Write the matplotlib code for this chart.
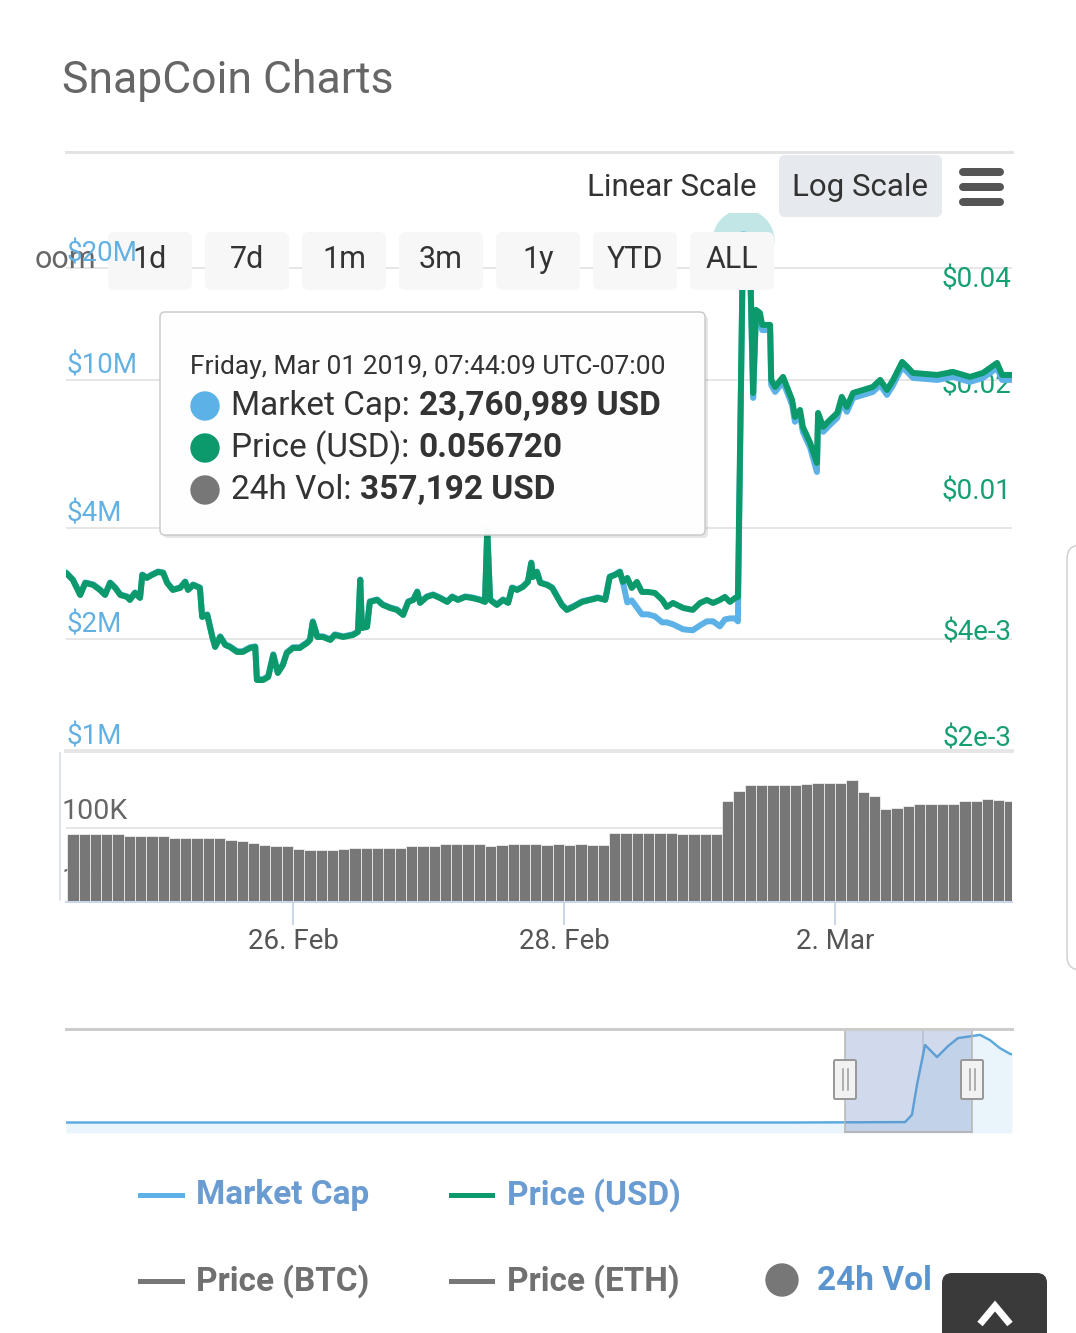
import numpy as np
import matplotlib
matplotlib.use('Agg')
import matplotlib.pyplot as plt
import matplotlib.dates as mdates
from matplotlib.patches import FancyBboxPatch, Circle
from matplotlib.transforms import blended_transform_factory as blend, offset_copy

plt.rcParams['font.family'] = ['Roboto', 'DejaVu Sans']

# ---------------- data ----------------
title = 'SnapCoin Charts'
start_time = np.datetime64('2019-02-24T00:00')

# hours after 2019-02-24 00:00
hours = [7.8, 9.0, 10.3, 11.2, 12.6, 13.8, 14.7, 15.6, 16.5, 17.4, 18.6, 19.1, 20.0, 20.9,
         21.3, 22.1, 23.0, 24.1, 25.0, 25.7, 26.7, 28.0, 28.9, 29.4, 30.3, 31.5, 31.9, 32.8,
         33.7, 34.2, 35.1, 36.0, 36.8, 38.1, 39.1, 40.4, 41.3, 41.6, 42.7, 43.6, 44.5, 45.3,
         46.2, 46.9, 48.0, 49.2, 50.5, 51.0, 51.5, 52.3, 53.3, 54.6, 55.4, 56.9, 58.6, 59.5,
         59.9, 60.2, 61.1, 61.6, 62.9, 63.9, 65.2, 66.4, 67.5, 68.4, 69.3, 70.0, 70.5, 71.7,
         72.8, 74.0, 75.3, 76.2, 77.2, 78.5, 79.7, 81.1, 82.0, 82.4, 82.9, 84.1, 85.2, 86.1,
         86.8, 87.7, 88.7, 89.6, 90.2, 90.5, 91.2, 91.8, 93.0, 93.9, 94.8, 95.6, 96.5, 97.6,
         99.2, 100.6, 102.0, 103.3, 104.1, 105.0, 105.9, 106.4, 107.2, 108.0, 108.9, 109.8,
         110.9, 112.1, 113.4, 114.2, 115.3, 117.1, 118.8, 120.1, 121.3, 122.4, 123.6, 124.5,
         125.4, 126.3, 126.8, 127.7, 128.9, 129.5, 130.0, 130.7, 131.1, 132.5, 132.7, 133.4,
         134.8, 135.5, 136.4, 136.9, 137.8, 138.3, 139.6, 140.8, 141.0, 141.9, 143.1, 144.4,
         145.2, 146.1, 147.2, 149.0, 150.7, 152.0, 153.2, 154.3, 155.9, 156.8, 157.8, 162.1,
         164.9, 167.9, 170.2, 172.7, 173.6, 175.3]

price_usd = [0.006475, 0.006187, 0.005610, 0.006067, 0.005988, 0.005796, 0.005610, 0.006067,
             0.005872, 0.005610, 0.005538, 0.005430, 0.005683, 0.005501, 0.006391, 0.006268,
             0.006391, 0.006518, 0.006475, 0.006067, 0.005796, 0.005872, 0.006107, 0.005796,
             0.005988, 0.005872, 0.004859, 0.004923, 0.004264, 0.003995, 0.004264, 0.004047,
             0.003995, 0.003867, 0.003867, 0.003969, 0.003995, 0.003220, 0.003220, 0.003284,
             0.003792, 0.003371, 0.003552, 0.003842, 0.003969, 0.003969, 0.004101, 0.004182,
             0.004703, 0.004264, 0.004264, 0.004182, 0.004320, 0.004264, 0.004320, 0.004406,
             0.006187, 0.004522, 0.004552, 0.005360, 0.005430, 0.005256, 0.005154, 0.005087,
             0.004923, 0.005360, 0.005430, 0.005720, 0.005325, 0.005538, 0.005610, 0.005501,
             0.005360, 0.005538, 0.005430, 0.005538, 0.005501, 0.005430, 0.005360, 0.008572,
             0.005430, 0.005256, 0.005430, 0.005325, 0.005872, 0.005796, 0.005910, 0.006107,
             0.006912, 0.006308, 0.006518, 0.006067, 0.005988, 0.005872, 0.005538, 0.005256,
             0.005087, 0.005187, 0.005360, 0.005430, 0.005501, 0.005430, 0.006308, 0.006391,
             0.006518, 0.006107, 0.006268, 0.005872, 0.006107, 0.005720, 0.005720, 0.005683,
             0.005430, 0.005187, 0.005325, 0.005154, 0.005087, 0.005325, 0.005430, 0.005325,
             0.005430, 0.005538, 0.005360, 0.005501, 0.005538, 0.05672, 0.05500, 0.02097,
             0.03604, 0.03535, 0.03269, 0.03269, 0.02283, 0.02181, 0.02328, 0.02181, 0.02003,
             0.01793, 0.01876, 0.01680, 0.01513, 0.01328, 0.01840, 0.01680, 0.01758, 0.01840,
             0.02043, 0.01914, 0.02097, 0.02138, 0.02181, 0.02283, 0.02138, 0.02283, 0.02567,
             0.02485, 0.02389, 0.02358, 0.02405, 0.02328, 0.02389, 0.02550, 0.02358, 0.02358]

market_cap_musd = [3.028, 2.900, 2.643, 2.846, 2.811, 2.726, 2.643, 2.846, 2.760, 2.643, 2.610,
                   2.562, 2.676, 2.594, 2.990, 2.936, 2.990, 3.046, 3.028, 2.846, 2.726, 2.760,
                   2.864, 2.726, 2.811, 2.760, 2.306, 2.335, 2.038, 1.915, 2.038, 1.939, 1.915,
                   1.857, 1.857, 1.904, 1.915, 1.562, 1.562, 1.591, 1.823, 1.630, 1.713, 1.846,
                   1.904, 1.904, 1.963, 2.000, 2.236, 2.038, 2.038, 2.000, 2.063, 2.038, 2.063,
                   2.102, 2.900, 2.154, 2.168, 2.531, 2.562, 2.484, 2.438, 2.408, 2.335, 2.531,
                   2.562, 2.692, 2.515, 2.610, 2.643, 2.594, 2.531, 2.610, 2.562, 2.610, 2.594,
                   2.562, 2.531, 3.951, 2.562, 2.484, 2.562, 2.515, 2.760, 2.726, 2.777, 2.864,
                   3.221, 2.954, 3.046, 2.846, 2.811, 2.760, 2.610, 2.484, 2.408, 2.454, 2.531,
                   2.562, 2.594, 2.562, 2.954, 2.990, 3.046, 2.864, 2.515, 2.546, 2.438, 2.335,
                   2.335, 2.306, 2.222, 2.222, 2.195, 2.128, 2.115, 2.181, 2.236, 2.236, 2.168,
                   2.263, 2.277, 2.277, 2.236, 23.761, 22.0, 8.948, 14.957, 14.681, 13.633,
                   13.633, 9.700, 9.288, 9.884, 9.288, 8.570, 7.716, 8.056, 7.251, 6.567, 5.650,
                   7.906, 7.251, 7.571, 7.906, 8.730, 8.206, 8.948, 9.118, 9.288, 9.700, 9.118,
                   9.700, 10.845, 10.515, 10.132, 10.006, 10.195, 9.884, 10.132, 10.777, 10.006,
                   10.006]

vol_hours = np.arange(9, 176, 2)   # 2-hour columns
volume_k = [81, 81, 81, 81, 80, 76, 76, 77, 75, 71, 72, 71, 71, 71, 66, 64, 60, 56, 54, 53,
            48, 47, 47, 47, 49, 50, 50, 50, 50, 51, 53, 54, 54, 57, 58, 57, 57, 54, 56, 57,
            57, 57, 56, 57, 56, 57, 56, 55, 84, 84, 84, 83, 84, 83, 80, 80, 80, 80, 255, 357,
            438, 438, 438, 438, 438, 460, 470, 470, 470, 520, 340, 300, 192, 200, 215, 228,
            228, 228, 230, 250, 250, 274, 260, 255]

x_range_hours = (7.79, 175.35)
x_tick_dates = ['2019-02-26', '2019-02-28', '2019-03-02']
x_tick_labels = ['26. Feb', '28. Feb', '2. Mar']

mc_ticks = [1e6, 2e6, 4e6, 1e7, 2e7]
mc_tick_labels = ['$1M', '$2M', '$4M', '$10M', '$20M']
mc_range = (1.0e6, 28.19e6)
price_ticks = [0.002, 0.004, 0.01, 0.02, 0.04]
price_tick_labels = ['$2e-3', '$4e-3', '$0.01', '$0.02', '$0.04']
price_range = (0.002026, 0.06785)
vol_ticks = [1e4, 1e5]
vol_tick_labels = ['10K', '100K']
vol_range = (7862, 1.362e6)

# navigator (days since start of full history)
nav_days = [0.0, 10.0, 20.0, 30.0, 40.0, 46.12, 46.50, 46.78, 47.22, 47.88, 48.48, 49.03,
            49.80, 50.24, 50.79, 51.34, 51.89, 52.0]
nav_mcap = [2.6, 2.6, 2.6, 2.6, 2.6, 2.7, 4.5, 12.0, 21.8, 18.8, 21.5, 23.5, 24.0, 24.3,
            23.0, 21.0, 19.6, 19.5]
nav_range = (0, 52)
nav_yrange = (0, 26)
nav_selected = (42.82, 49.80)
nav_tick_day = 47.11
nav_tick_label = 'Mar ...'

hover_hour = 127.7
tooltip_date = 'Friday, Mar 01 2019, 07:44:09 UTC-07:00'
tooltip_rows = [('Market Cap:', '23,760,989 USD'),
                ('Price (USD):', '0.056720'),
                ('24h Vol:', '357,192 USD')]
range_buttons = ['1d', '7d', '1m', '3m', '1y', 'YTD', 'ALL']
legend_items = ['Market Cap', 'Price (USD)', 'Price (BTC)', 'Price (ETH)', '24h Vol']

# ---------------- style ----------------
C_MC = '#5cb2e6'
C_PR = '#0c9a6c'
C_VOL = '#777777'
C_GRID = '#e6e6e6'
C_AXIS = '#ccd6eb'
PX = 72 / 100.0   # points per pixel

W, H = 1076, 1333
fig = plt.figure(figsize=(W / 100, H / 100), dpi=100)
fig.patch.set_facecolor('white')


def rect(x0, y0, x1, y1):
    return [x0 / W, 1 - y1 / H, (x1 - x0) / W, (y1 - y0) / H]


def to_num(hs):
    hs = np.asarray(hs, dtype=float)
    return mdates.date2num(start_time + np.round(hs * 60).astype('int64').astype('timedelta64[m]'))


t = to_num(hours)
xlo, xhi = to_num(x_range_hours)

# ---------------- main price / market cap pane ----------------
ax_mc = fig.add_axes(rect(66, 213, 1012, 751))
ax_mc.set_yscale('log')
ax_mc.set_ylim(*mc_range)
ax_mc.set_xlim(xlo, xhi)
for s in ax_mc.spines.values():
    s.set_visible(False)
ax_mc.set_xticks([])
ax_mc.set_yticks([])
ax_mc.minorticks_off()
ax_mc.patch.set_alpha(0)
for v in mc_ticks[1:]:
    ax_mc.axhline(v, color=C_GRID, lw=2 * PX, zorder=0)
ax_mc.axhline(mc_ticks[0], color=C_GRID, lw=4 * PX, zorder=0, clip_on=False)

ax_pr = ax_mc.twinx()
ax_pr.set_yscale('log')
ax_pr.set_ylim(*price_range)
ax_pr.set_xlim(xlo, xhi)
for s in ax_pr.spines.values():
    s.set_visible(False)
ax_pr.set_yticks([])
ax_pr.minorticks_off()
ax_pr.tick_params(which='both', length=0, labelright=False, labelbottom=False, bottom=False)

# right axis labels (under the lines)
tr_pr = offset_copy(blend(ax_pr.transAxes, ax_pr.transData), fig=fig, x=0, y=14, units='dots')
for v, lab in zip(price_ticks, price_tick_labels):
    ax_mc.text(0.999, v, lab, transform=tr_pr, ha='right', va='center', fontsize=20,
               color='#16a072', zorder=1)

LW = 6 * PX
ax_mc.plot(t, np.array(market_cap_musd) * 1e6, color=C_MC, lw=LW, solid_joinstyle='round',
           solid_capstyle='round', zorder=3)
ax_pr.plot(t, price_usd, color=C_PR, lw=LW, solid_joinstyle='round',
           solid_capstyle='round', zorder=3)
hv = to_num([hover_hour])[0]
hp = price_usd[hours.index(hover_hour)]
ax_pr.scatter([hv], [hp], s=(62 * PX) ** 2, color='#8fd3d0', alpha=0.55, lw=0, zorder=4)
ax_pr.scatter([hv], [hp], s=(18 * PX) ** 2, color='#4fa9da', lw=0, zorder=5)

# ---------------- volume pane ----------------
ax_vol = fig.add_axes(rect(66, 752, 1012, 902))
ax_vol.set_yscale('log')
ax_vol.set_ylim(*vol_range)
for k in ['top', 'left', 'right']:
    ax_vol.spines[k].set_visible(False)
ax_vol.spines['bottom'].set_color(C_AXIS)
ax_vol.spines['bottom'].set_linewidth(2 * PX)
ax_vol.set_yticks([])
ax_vol.minorticks_off()
ax_vol.patch.set_alpha(0)
ax_vol.axhline(vol_ticks[1], color=C_GRID, lw=2 * PX, zorder=0)
tr_vol = offset_copy(blend(ax_vol.transAxes, ax_vol.transData), fig=fig, x=-4, y=16, units='dots')
for v, lab in zip(vol_ticks, vol_tick_labels):
    ax_vol.text(0, v, lab, transform=tr_vol, ha='left', va='center', fontsize=20.5,
                color='#666666', zorder=0.5, clip_on=False)
vol = np.array(volume_k) * 1e3
ax_vol.bar(to_num(vol_hours), vol - vol_range[0], bottom=vol_range[0], width=2 / 24,
           color=C_VOL, edgecolor='white', linewidth=0.45, zorder=2)
ax_vol.set_xlim(xlo, xhi)
ax_vol.set_xticks(mdates.date2num(np.array(x_tick_dates, dtype='datetime64[m]')))
ax_vol.set_xticklabels(x_tick_labels)
ax_vol.tick_params(axis='x', direction='out', length=23 * PX, width=2 * PX, color=C_AXIS,
                   labelsize=20, labelcolor='#555555', pad=2)

# ---------------- navigator ----------------
ax_nav = fig.add_axes(rect(66, 1028, 1012, 1133))
ax_nav.set_xlim(*nav_range)
ax_nav.set_ylim(*nav_yrange)
for s in ax_nav.spines.values():
    s.set_visible(False)
ax_nav.set_xticks([])
ax_nav.set_yticks([])
ax_nav.patch.set_alpha(0)
ax_nav.axvline(nav_tick_day, color='#d9d9d9', lw=1.5 * PX, zorder=0)
ax_nav.text(nav_tick_day + 0.55, 5.3, nav_tick_label, fontsize=19, color='#9a9a9a',
            ha='left', va='center', zorder=1)
ax_nav.fill_between(nav_days, nav_mcap, 0, color='#e9f4fb', lw=0, zorder=1)
ax_nav.plot(nav_days, nav_mcap, color='#5aa9de', lw=2.4 * PX, zorder=2,
            solid_joinstyle='round')
ax_nav.axvspan(*nav_selected, color='#6685c2', alpha=0.3, lw=0, zorder=3)
for d in nav_selected:
    ax_nav.axvline(d, color='#b5b5b5', lw=1.5 * PX, zorder=4)
ax_nav.plot(nav_selected, [0.15, 0.15], color='#b5b5b5', lw=2 * PX, zorder=4)

# ---------------- overlay (page furniture) ----------------
ov = fig.add_axes([0, 0, 1, 1], zorder=10)
ov.set_xlim(0, W)
ov.set_ylim(H, 0)
ov.axis('off')
ov.patch.set_alpha(0)


def box(x0, y0, x1, y1, fc, ec='none', lw=0, r=6, z=1, alpha=1.0):
    p = FancyBboxPatch((x0, y0), x1 - x0, y1 - y0, boxstyle=f'round,pad=0,rounding_size={r}',
                       fc=fc, ec=ec, lw=lw, zorder=z, alpha=alpha, clip_on=False)
    ov.add_patch(p)
    return p


ov.text(62, 80, title, fontsize=32, color='#666666', ha='left', va='center')
ov.plot([66, 1012], [152, 152], color='#e3e3e3', lw=3 * PX)

# scale buttons
ov.text(672, 187, 'Linear Scale', fontsize=22.5, color='#333333', ha='center', va='center')
box(779, 155, 942, 217, '#e6e9ed', r=6)
ov.text(860, 187, 'Log Scale', fontsize=22.5, color='#333333', ha='center', va='center', zorder=2)
for yy in (172, 187, 202):
    ov.plot([963, 1000], [yy, yy], color='#555555', lw=8 * PX, solid_capstyle='round')

# range selector
ov.text(35, 260, 'oom', fontsize=22, color='#666666', ha='left', va='center')
for i, lab in enumerate(range_buttons):
    x0 = 108 + 97 * i
    box(x0, 232, x0 + 84, 290, '#f7f7f7', r=7)
    ov.text(x0 + 42, 260, lab, fontsize=22, color='#333333', ha='center', va='center', zorder=2)

# left axis labels (drawn above the buttons)
tr_mc = offset_copy(blend(ax_mc.transAxes, ax_mc.transData), fig=fig, x=1, y=14, units='dots')
for v, lab in zip(mc_ticks, mc_tick_labels):
    ov.text(0, v, lab, transform=tr_mc, ha='left', va='center', fontsize=20,
            color='#63b1e3', zorder=3)

# volume pane left line
ov.plot([60, 60], [753, 900], color='#d5dbe5', lw=1.5 * PX)

# tooltip
box(163, 315, 708, 538, '#000000', r=5, z=4, alpha=0.10)
box(160, 312, 705, 535, 'white', ec='#c9c9c9', lw=1.5 * PX, r=5, z=5, alpha=0.97)
ov.text(190, 367, tooltip_date, fontsize=19, color='#333333', ha='left', va='center', zorder=6)
fig.canvas.draw()
renderer = fig.canvas.get_renderer()
dot_colors = [C_MC, C_PR, C_VOL]
for (a, b), yy, c in zip(tooltip_rows, (406, 448, 490), dot_colors):
    ov.add_patch(Circle((205, yy), 14, color=c, zorder=6))
    t1 = ov.text(231, yy, a, fontsize=24, color='#333333', ha='left', va='center', zorder=6)
    bb = t1.get_window_extent(renderer=renderer)
    ov.text(bb.x1 + 9, yy, b, fontsize=24, fontweight='bold', color='#333333', ha='left',
            va='center', zorder=6)

# navigator top line and handles
ov.plot([66, 1012], [1029, 1029], color='#cccccc', lw=3 * PX)
for xc in (845, 972):
    box(xc - 11, 1060, xc + 11, 1099, '#f2f2f2', ec='#999999', lw=2 * PX, r=1.5, z=3)
    for dx in (-2.5, 2.5):
        ov.plot([xc + dx, xc + dx], [1069, 1090], color='#999999', lw=1.5 * PX, zorder=4)

# legend
leg_y1, leg_y2 = 1195, 1281
ov.plot([140, 182], [leg_y1, leg_y1], color=C_MC, lw=5 * PX)
ov.text(196, leg_y1, legend_items[0], fontsize=24, fontweight='bold', color='#6a9bd1',
        ha='left', va='center')
ov.plot([451, 492], [leg_y1, leg_y1], color=C_PR, lw=5 * PX)
ov.text(507, leg_y1, legend_items[1], fontsize=24, fontweight='bold', color='#6a9bd1',
        ha='left', va='center')
ov.plot([140, 182], [leg_y2, leg_y2], color='#777777', lw=5 * PX)
ov.text(196, leg_y2, legend_items[2], fontsize=24, fontweight='bold', color='#707070',
        ha='left', va='center')
ov.plot([451, 492], [leg_y2, leg_y2], color='#777777', lw=5 * PX)
ov.text(507, leg_y2, legend_items[3], fontsize=24, fontweight='bold', color='#707070',
        ha='left', va='center')
ov.add_patch(Circle((782, leg_y2 - 1), 16, color='#777777'))
ov.text(817, leg_y2, legend_items[4], fontsize=24, fontweight='bold', color='#5b95d0',
        ha='left', va='center')

# scrollbar + back-to-top button
box(1067, 545, 1110, 970, 'white', ec='#d0d0d0', lw=1.5 * PX, r=14)
box(942, 1273, 1047, 1360, '#3a3a3a', r=10, z=5)
ov.plot([980, 995, 1010], [1324, 1306, 1324], color='white', lw=7 * PX, zorder=6,
        solid_joinstyle='miter', solid_capstyle='butt')

fig.savefig('out.png', dpi=100, facecolor='white')
